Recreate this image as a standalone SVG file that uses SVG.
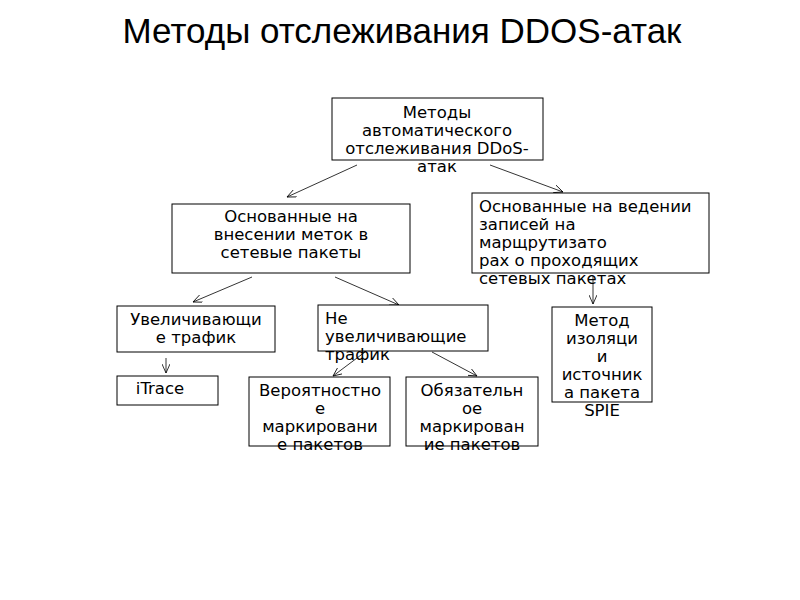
<svg xmlns="http://www.w3.org/2000/svg" width="800" height="600" viewBox="0 0 800 600">
<style>
rect{fill:#fff;stroke:#000;stroke-width:1}
text{font-family:"DejaVu Sans",sans-serif;font-size:16.5px;fill:#000}
.c{text-anchor:middle}
line{stroke:#000;stroke-width:0.8;marker-end:url(#a)}
</style>
<defs><marker id="a" markerWidth="10" markerHeight="8" refX="9" refY="4" orient="auto" markerUnits="userSpaceOnUse"><path d="M0,0 L9,4 L0,8" fill="none" stroke="#000" stroke-width="0.8"/></marker></defs>
<rect x="0" y="0" width="800" height="600" style="stroke:none"/>
<text x="402" y="43" class="c" style="font-family:'Liberation Sans',sans-serif;font-size:35px">Методы отслеживания DDOS-атак</text>
<g id="conn">
<line x1="357" y1="165" x2="287" y2="197"/>
<line x1="490" y1="165" x2="563" y2="192"/>
<line x1="252" y1="277" x2="193" y2="302"/>
<line x1="335" y1="277" x2="399" y2="305"/>
<line x1="166" y1="358" x2="166" y2="373"/>
<line x1="365" y1="352" x2="333" y2="376"/>
<line x1="432" y1="352" x2="477" y2="376"/>
<line x1="593" y1="276" x2="593" y2="304"/>
</g>
<g id="root"><rect x="332" y="98" width="211" height="62"/>
<text class="c" x="437" y="118">Методы</text><text class="c" x="437" y="136">автоматического</text><text class="c" x="437" y="154">отслеживания DDoS-</text><text class="c" x="437" y="172">атак</text></g>
<g id="n1"><rect x="172" y="204" width="238" height="69"/>
<text class="c" x="291" y="222">Основанные на</text><text class="c" x="291" y="240">внесении меток в</text><text class="c" x="291" y="258">сетевые пакеты</text></g>
<g id="n2"><rect x="472" y="193" width="237" height="80"/>
<text x="479" y="212">Основанные на ведении</text><text x="479" y="230">записей на</text><text x="479" y="248">марщрутизато</text><text x="479" y="266">рах о проходящих</text><text x="479" y="284">сетевых пакетах</text></g>
<g id="n3"><rect x="117" y="306" width="158" height="46"/>
<text class="c" x="196" y="325">Увеличивающи</text><text class="c" x="196" y="343">е трафик</text></g>
<g id="n4"><rect x="318" y="305" width="170" height="46"/>
<text x="325" y="324">Не</text><text x="325" y="342">увеличивающие</text><text x="325" y="360">трафик</text></g>
<g id="n5"><rect x="552" y="307" width="100" height="95"/>
<text class="c" x="602" y="326">Метод</text><text class="c" x="602" y="344">изоляци</text><text class="c" x="602" y="362">и</text><text class="c" x="602" y="380">источник</text><text class="c" x="602" y="398">а пакета</text><text class="c" x="602" y="416">SPIE</text></g>
<g id="n6"><rect x="117" y="376" width="101" height="29"/>
<text class="c" x="160" y="394">iTrace</text></g>
<g id="n7"><rect x="249" y="377" width="141" height="69"/>
<text class="c" x="320" y="396">Вероятностно</text><text class="c" x="320" y="414">е</text><text class="c" x="320" y="432">маркировани</text><text class="c" x="320" y="450">е пакетов</text></g>
<g id="n8"><rect x="406" y="377" width="132" height="69"/>
<text class="c" x="472" y="396">Обязательн</text><text class="c" x="472" y="414">ое</text><text class="c" x="472" y="432">маркирован</text><text class="c" x="472" y="450">ие пакетов</text></g>
</svg>
